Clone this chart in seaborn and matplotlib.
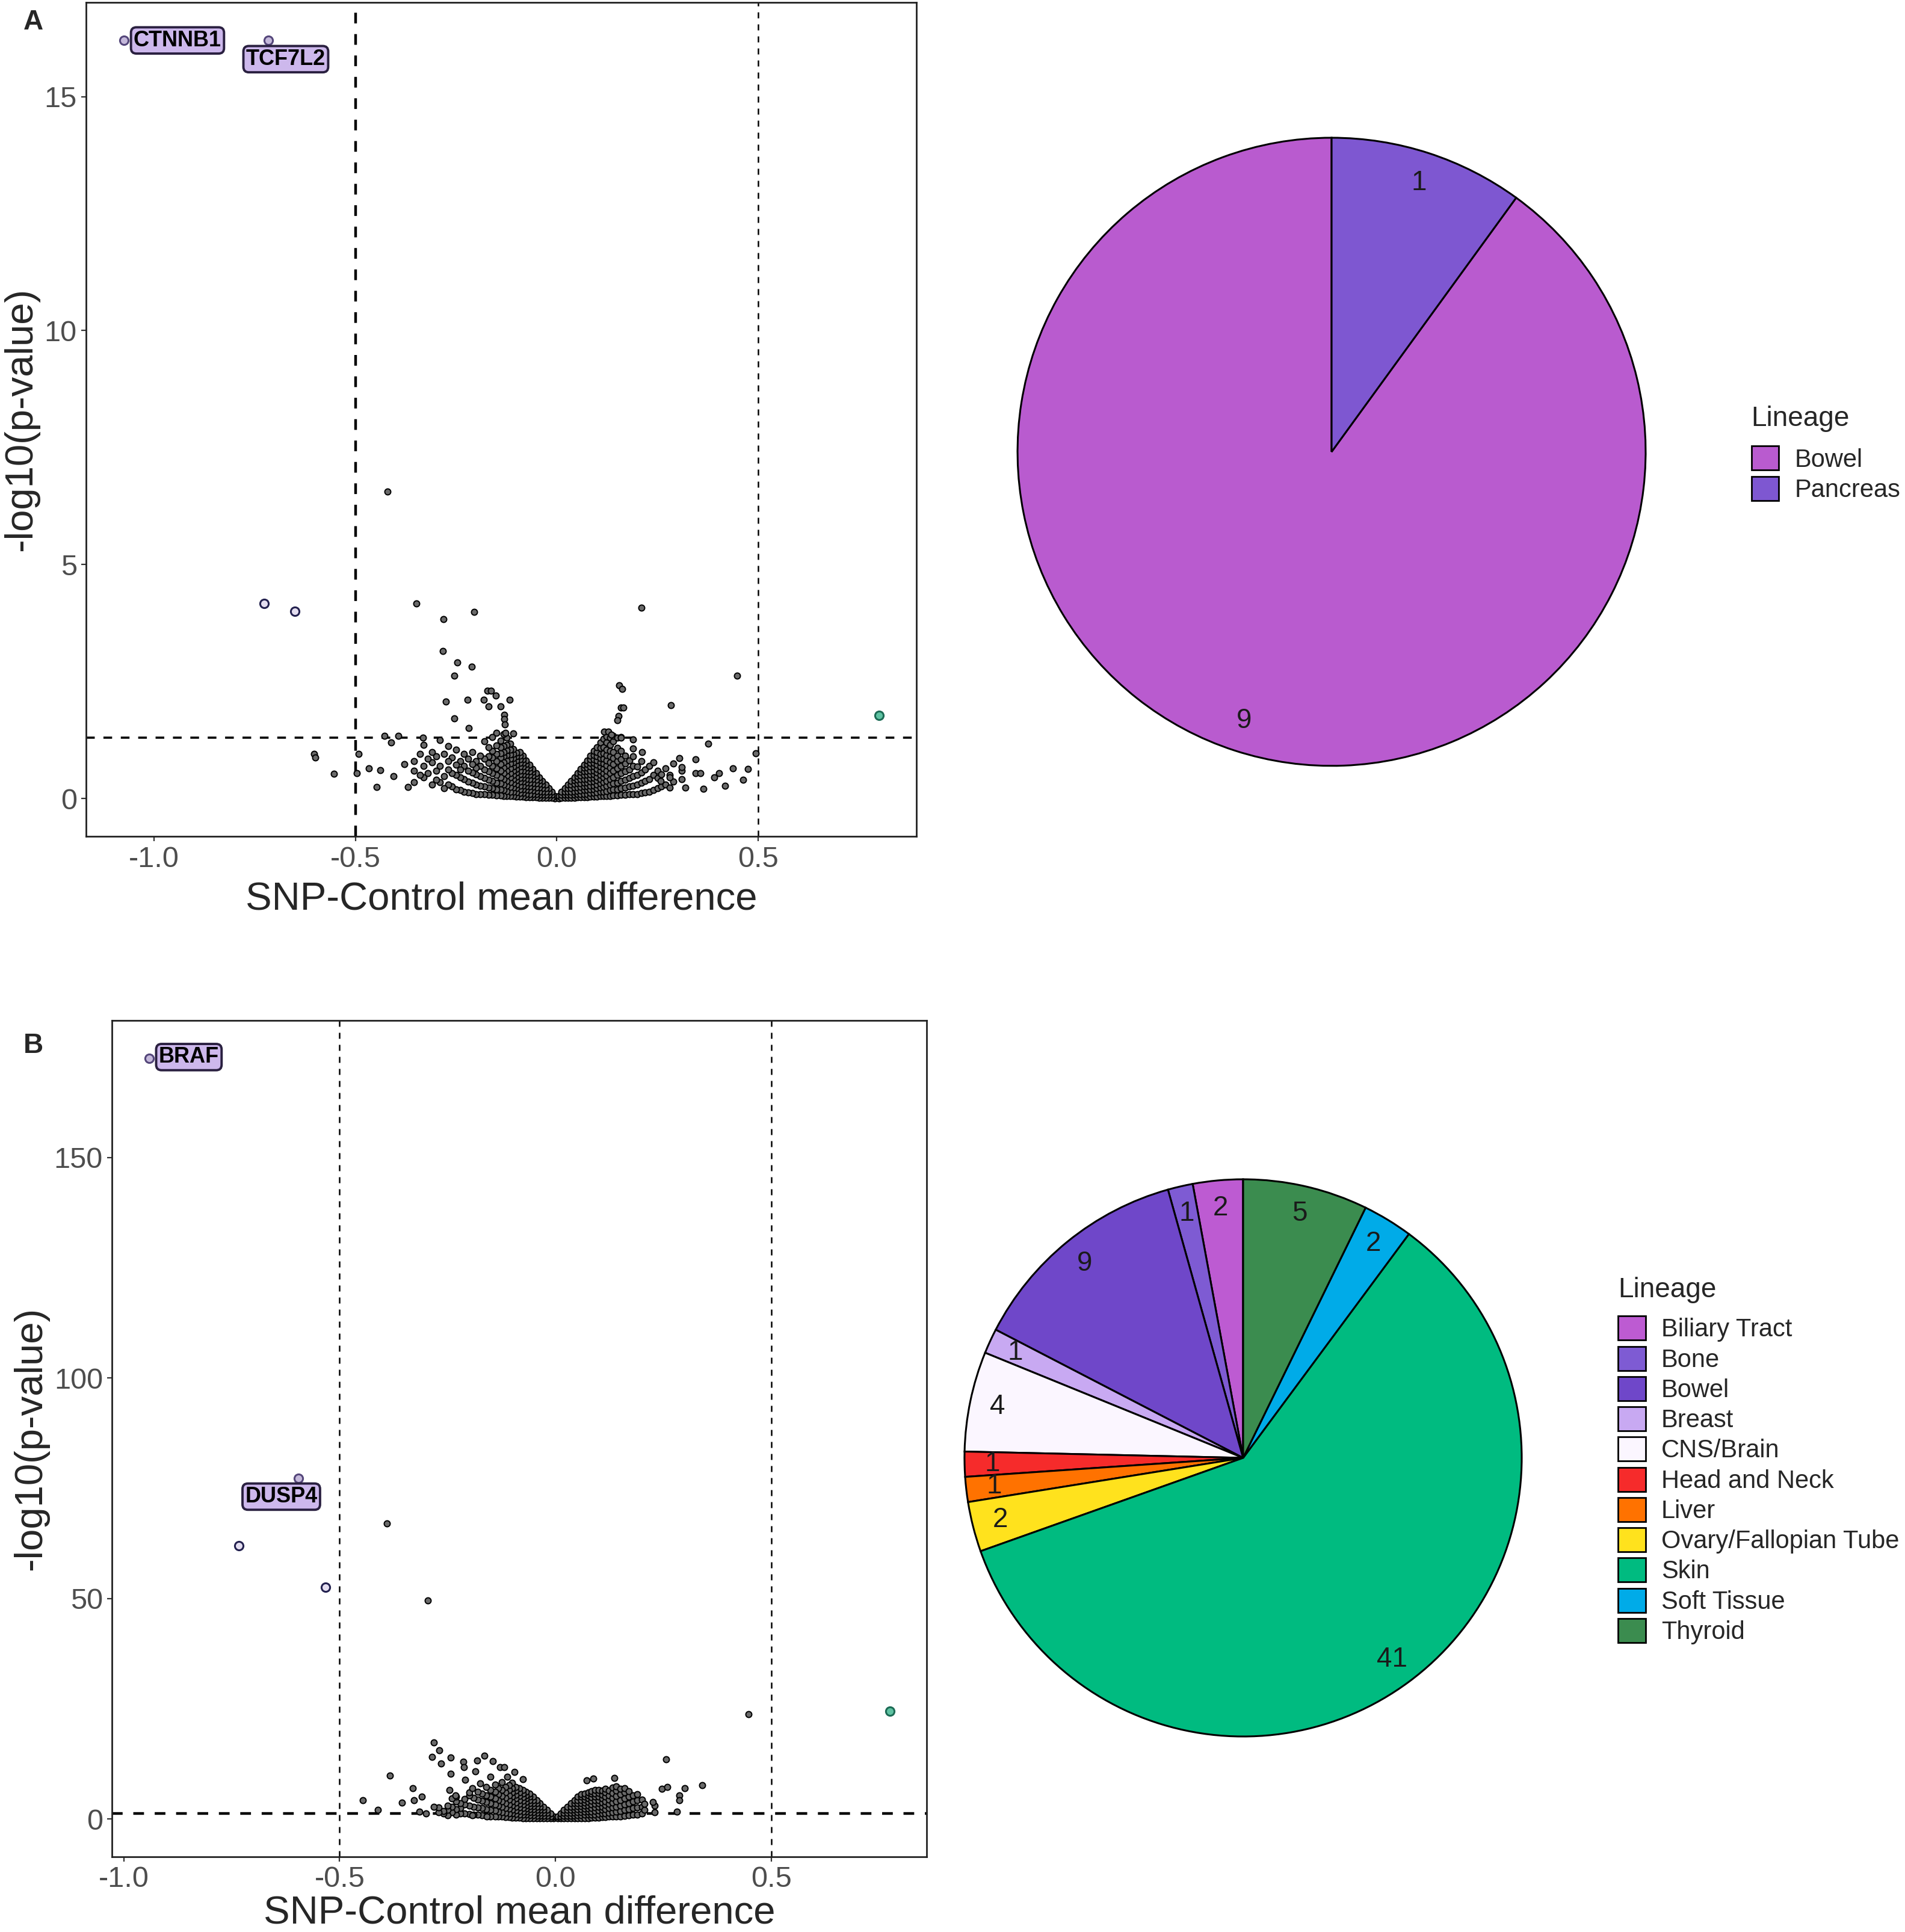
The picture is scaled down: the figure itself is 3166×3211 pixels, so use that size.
import numpy as np
import pandas as pd
import matplotlib
matplotlib.use('Agg')
import matplotlib.pyplot as plt
from matplotlib.patches import Patch
import seaborn as sns

# ---------------- data: panel A volcano ----------------
# background genes, read as columns  x -> list of -log10(p)
a_cols = {
    -0.005: [0.01, 0.05],
    -0.012: [0.02, 0.08, 0.14],
    -0.020: [0.02, 0.08, 0.15, 0.22],
    -0.028: [0.02, 0.08, 0.15, 0.22, 0.30],
    -0.036: [0.02, 0.08, 0.15, 0.22, 0.30, 0.38],
    -0.044: [0.02, 0.08, 0.15, 0.23, 0.31, 0.39, 0.46],
    -0.052: [0.03, 0.09, 0.16, 0.24, 0.32, 0.40, 0.48, 0.55],
    -0.060: [0.03, 0.10, 0.17, 0.25, 0.33, 0.41, 0.49, 0.57, 0.64],
    -0.068: [0.03, 0.10, 0.18, 0.26, 0.34, 0.42, 0.50, 0.58, 0.66, 0.73],
    -0.076: [0.03, 0.10, 0.18, 0.26, 0.34, 0.42, 0.50, 0.58, 0.66, 0.74, 0.82],
    -0.084: [0.04, 0.12, 0.20, 0.28, 0.36, 0.44, 0.52, 0.60, 0.68, 0.76, 0.84, 0.92],
    -0.092: [0.04, 0.12, 0.20, 0.28, 0.36, 0.44, 0.52, 0.60, 0.68, 0.76, 0.84, 0.92, 1.00],
    -0.100: [0.04, 0.13, 0.22, 0.30, 0.39, 0.47, 0.56, 0.64, 0.73, 0.82, 0.90, 0.98],
    -0.108: [0.05, 0.14, 0.23, 0.32, 0.41, 0.50, 0.59, 0.68, 0.77, 0.86, 0.95, 1.06],
    -0.116: [0.05, 0.15, 0.25, 0.35, 0.45, 0.55, 0.65, 0.75, 0.85, 0.94, 1.05, 1.18],
    -0.124: [0.06, 0.16, 0.27, 0.38, 0.49, 0.60, 0.71, 0.82, 0.93, 1.03, 1.15, 1.30],
    -0.132: [0.06, 0.18, 0.30, 0.42, 0.54, 0.66, 0.78, 0.90, 1.00, 1.12, 1.38],
    -0.140: [0.07, 0.20, 0.33, 0.46, 0.60, 0.74, 0.88, 0.97, 1.10, 1.24],
    -0.150: [0.07, 0.20, 0.34, 0.50, 0.65, 0.80, 0.95, 1.14, 1.40],
    -0.160: [0.08, 0.22, 0.38, 0.54, 0.70, 0.88, 1.02, 1.32],
    -0.170: [0.08, 0.24, 0.40, 0.58, 0.76, 0.90, 1.10],
    -0.180: [0.09, 0.26, 0.44, 0.62, 0.85, 1.22],
    -0.190: [0.10, 0.28, 0.48, 0.70, 0.92],
    -0.200: [0.10, 0.30, 0.52, 0.66, 0.80],
    -0.210: [0.12, 0.34, 0.56, 0.74, 1.00],
    -0.220: [0.13, 0.36, 0.60, 0.85],
    -0.230: [0.15, 0.42, 0.70, 0.95],
    -0.240: [0.18, 0.46, 0.62, 0.80],
    -0.250: [0.20, 0.50, 0.72, 1.05],
    -0.260: [0.26, 0.55, 0.88],
    -0.270: [0.30, 0.62, 0.80, 1.12],
    -0.280: [0.22, 0.48, 0.95],
    -0.290: [0.35, 0.70, 1.25],
    -0.300: [0.40, 0.60, 0.90],
    -0.310: [0.30, 0.78, 1.00],
    -0.320: [0.55, 0.85],
    -0.330: [0.45, 0.70, 1.15],
    -0.340: [0.50, 0.95],
    -0.355: [0.35, 0.60, 0.80],
    0.005: [0.01, 0.05],
    0.012: [0.02, 0.08, 0.14],
    0.020: [0.02, 0.08, 0.15, 0.22],
    0.028: [0.02, 0.08, 0.15, 0.22, 0.30],
    0.036: [0.02, 0.08, 0.15, 0.22, 0.30, 0.38],
    0.044: [0.02, 0.08, 0.15, 0.23, 0.31, 0.39, 0.46],
    0.052: [0.03, 0.09, 0.16, 0.24, 0.32, 0.40, 0.48, 0.55],
    0.060: [0.03, 0.10, 0.17, 0.25, 0.33, 0.41, 0.49, 0.57, 0.64],
    0.068: [0.03, 0.10, 0.18, 0.26, 0.34, 0.42, 0.50, 0.58, 0.66, 0.73],
    0.076: [0.03, 0.10, 0.18, 0.26, 0.34, 0.42, 0.50, 0.58, 0.66, 0.74, 0.82],
    0.084: [0.04, 0.12, 0.20, 0.28, 0.36, 0.44, 0.52, 0.60, 0.68, 0.76, 0.84, 0.92],
    0.092: [0.04, 0.12, 0.20, 0.28, 0.36, 0.44, 0.52, 0.60, 0.68, 0.76, 0.84, 0.93, 1.02],
    0.100: [0.04, 0.13, 0.22, 0.30, 0.39, 0.47, 0.56, 0.64, 0.73, 0.82, 0.90, 1.00, 1.10],
    0.108: [0.05, 0.14, 0.23, 0.32, 0.41, 0.50, 0.59, 0.68, 0.77, 0.86, 0.96, 1.08, 1.20],
    0.116: [0.05, 0.15, 0.25, 0.35, 0.45, 0.55, 0.65, 0.75, 0.85, 0.97, 1.10, 1.28],
    0.124: [0.06, 0.16, 0.27, 0.38, 0.49, 0.60, 0.71, 0.82, 0.93, 1.05, 1.20, 1.33],
    0.132: [0.06, 0.18, 0.30, 0.42, 0.54, 0.66, 0.78, 0.90, 1.02, 1.15, 1.30],
    0.140: [0.07, 0.20, 0.33, 0.46, 0.60, 0.74, 0.86, 1.00, 1.22, 1.34],
    0.150: [0.07, 0.20, 0.34, 0.50, 0.65, 0.80, 0.92, 1.08, 1.30],
    0.160: [0.08, 0.22, 0.38, 0.54, 0.70, 0.84, 1.02, 1.32],
    0.170: [0.08, 0.24, 0.40, 0.58, 0.75, 0.92],
    0.180: [0.09, 0.26, 0.44, 0.62, 0.82],
    0.190: [0.10, 0.28, 0.48, 0.70, 0.90],
    0.200: [0.10, 0.30, 0.50, 0.68],
    0.210: [0.12, 0.34, 0.56, 0.80],
    0.220: [0.13, 0.38, 0.62],
    0.230: [0.15, 0.42, 0.70],
    0.240: [0.18, 0.50, 0.78],
    0.250: [0.22, 0.44, 0.60],
    0.260: [0.26, 0.52],
    0.270: [0.30, 0.65],
    0.280: [0.24, 0.50],
    0.290: [0.36, 0.75],
    0.310: [0.42, 0.60],
}
# isolated background genes
a_sparse_x = [-0.42, -0.348, -0.205, -0.281, -0.283, -0.247, -0.211, -0.255, -0.172, -0.163,
              -0.152, -0.275, -0.222, -0.182, -0.117, -0.169, -0.14, -0.131, -0.131, -0.255,
              -0.218, -0.129, -0.127, -0.108, 0.211, 0.448, 0.155, 0.163, 0.159, 0.166,
              0.284, 0.153, 0.151, 0.117, 0.128, 0.136, 0.159, 0.19, 0.376, 0.494,
              -0.428, -0.393, -0.412, -0.332, -0.603, -0.492, -0.553, -0.466, -0.439, -0.447,
              -0.405, -0.378, -0.37, -0.6, -0.497, 0.212, 0.19, 0.304, 0.345, 0.311,
              0.345, 0.357, 0.364, 0.391, 0.403, 0.418, 0.437, 0.463, 0.475, 0.319,
              0.281, 0.258]
a_sparse_y = [6.56, 4.17, 3.99, 3.83, 3.16, 2.91, 2.82, 2.63, 2.30, 2.31,
              2.20, 2.07, 2.11, 2.11, 2.11, 1.97, 1.97, 1.79, 1.70, 1.72,
              1.51, 1.58, 1.41, 1.39, 4.08, 2.63, 2.42, 2.35, 1.95, 1.95,
              2.00, 1.76, 1.68, 1.43, 1.43, 1.37, 1.30, 1.26, 1.18, 0.97,
              1.34, 1.34, 1.20, 1.30, 0.95, 0.95, 0.53, 0.65, 0.61, 0.25,
              0.48, 0.74, 0.25, 0.88, 0.55, 1.00, 1.07, 0.86, 0.84, 0.67,
              0.55, 0.55, 0.21, 0.46, 0.55, 0.27, 0.65, 0.40, 0.63, 0.23,
              0.46, 0.38]
# highlighted genes
a_hit_x = [-1.075, -0.716, -0.727, -0.650, 0.800]
a_hit_y = [16.2, 16.2, 4.17, 4.00, 1.78]
a_hit_group = ['label', 'label', 'down', 'down', 'up']
a_gene = ['CTNNB1', 'TCF7L2']
a_gene_x = [-0.942, -0.673]
a_gene_y = [16.2, 15.8]

# ---------------- data: panel B volcano ----------------
b_cols = {
    -0.005: [0.1, 0.5],
    -0.012: [0.1, 0.6, 1.2],
    -0.020: [0.1, 0.7, 1.4, 2.1],
    -0.028: [0.1, 0.7, 1.4, 2.1, 2.8],
    -0.036: [0.1, 0.7, 1.4, 2.1, 2.8, 3.5],
    -0.044: [0.1, 0.7, 1.4, 2.1, 2.8, 3.5, 4.2],
    -0.052: [0.2, 0.8, 1.5, 2.2, 2.9, 3.6, 4.3, 5.0],
    -0.060: [0.2, 0.8, 1.5, 2.2, 2.9, 3.6, 4.3, 5.0, 5.8],
    -0.068: [0.2, 0.9, 1.6, 2.3, 3.0, 3.8, 4.6, 5.4, 6.2],
    -0.076: [0.2, 0.9, 1.7, 2.5, 3.3, 4.1, 4.9, 5.7, 6.6],
    -0.084: [0.3, 1.0, 1.8, 2.6, 3.4, 4.3, 5.2, 6.0, 7.0],
    -0.092: [0.3, 1.1, 1.9, 2.8, 3.7, 4.6, 5.5, 6.4, 7.3],
    -0.100: [0.3, 1.2, 2.1, 3.0, 4.0, 5.0, 6.0, 7.0, 8.2],
    -0.108: [0.4, 1.3, 2.3, 3.3, 4.4, 5.4, 6.6, 7.6],
    -0.116: [0.4, 1.4, 2.5, 3.6, 4.8, 6.0, 7.2],
    -0.124: [0.5, 1.5, 2.7, 3.9, 5.2, 6.5, 8.4],
    -0.132: [0.5, 1.7, 3.0, 4.3, 5.6, 7.0],
    -0.140: [0.6, 1.9, 3.3, 4.7, 6.2, 7.8],
    -0.150: [0.6, 2.0, 3.5, 5.0, 6.6],
    -0.160: [0.7, 2.2, 3.8, 5.4, 7.2],
    -0.170: [0.8, 2.4, 4.1, 5.8],
    -0.180: [0.9, 2.6, 4.4, 6.2],
    -0.190: [1.0, 2.8, 4.8],
    -0.200: [1.1, 3.0, 5.3, 6.0],
    -0.210: [1.2, 3.3, 4.5],
    -0.220: [1.3, 2.5, 3.6],
    -0.230: [1.0, 2.2, 3.9, 5.0],
    -0.240: [1.5, 2.8, 4.6],
    -0.250: [0.8, 2.0, 3.0],
    -0.260: [1.2, 1.8],
    -0.270: [1.5, 2.6],
    -0.300: [1.2],
    0.005: [0.1, 0.5],
    0.012: [0.1, 0.6, 1.2],
    0.020: [0.1, 0.7, 1.4, 2.1],
    0.028: [0.1, 0.7, 1.4, 2.1, 2.8],
    0.036: [0.1, 0.7, 1.4, 2.1, 2.8, 3.5],
    0.044: [0.1, 0.7, 1.4, 2.1, 2.8, 3.5, 4.2],
    0.052: [0.2, 0.8, 1.5, 2.2, 2.9, 3.6, 4.3, 5.0],
    0.060: [0.2, 0.8, 1.5, 2.2, 2.9, 3.6, 4.3, 5.0, 5.6],
    0.068: [0.2, 0.9, 1.6, 2.3, 3.0, 3.7, 4.4, 5.1, 5.8],
    0.076: [0.2, 0.9, 1.6, 2.3, 3.0, 3.8, 4.6, 5.4, 6.0],
    0.084: [0.3, 1.0, 1.7, 2.5, 3.3, 4.1, 4.9, 5.7, 6.3],
    0.092: [0.3, 1.0, 1.8, 2.6, 3.4, 4.2, 5.0, 5.8, 6.5],
    0.100: [0.3, 1.1, 1.9, 2.7, 3.5, 4.3, 5.1, 5.9, 6.6],
    0.108: [0.4, 1.2, 2.0, 2.8, 3.7, 4.6, 5.5, 6.4],
    0.116: [0.4, 1.3, 2.2, 3.1, 4.0, 5.0, 6.0, 6.9],
    0.124: [0.5, 1.4, 2.4, 3.4, 4.4, 5.4, 6.4],
    0.132: [0.5, 1.5, 2.6, 3.7, 4.8, 5.9, 7.1],
    0.140: [0.6, 1.7, 2.8, 4.0, 5.2, 6.4, 7.4],
    0.150: [0.6, 1.8, 3.0, 4.3, 5.6, 6.8],
    0.160: [0.7, 2.0, 3.3, 4.6, 6.0, 7.0],
    0.170: [0.8, 2.2, 3.6, 5.0, 6.3],
    0.180: [0.9, 2.4, 3.9, 5.4],
    0.190: [1.0, 2.6, 4.2, 5.6],
    0.200: [1.2, 2.8, 4.4],
    0.206: [2.0, 3.4],
    0.230: [1.5, 3.0],
}
b_sparse_x = [-0.390, -0.295, -0.281, -0.269, -0.286, -0.265, -0.243, -0.383, -0.243, -0.213,
              -0.212, -0.181, -0.165, -0.186, -0.145, -0.209, -0.150, -0.128, -0.118, -0.095,
              -0.112, -0.330, -0.309, -0.327, -0.355, -0.446, -0.281, -0.411, -0.246, -0.231,
              -0.193, -0.175, -0.075, -0.315, -0.193, -0.159, 0.256, 0.072, 0.087, 0.137,
              0.246, 0.259, 0.299, 0.340, 0.226, 0.287, 0.287, 0.281, 0.447]
b_sparse_y = [67.0, 49.5, 17.3, 15.6, 14.0, 12.5, 13.9, 9.8, 10.2, 13.0,
              11.8, 13.2, 14.3, 10.8, 13.1, 8.9, 9.5, 11.8, 11.7, 10.7,
              9.5, 7.0, 5.1, 4.2, 3.7, 4.2, 2.7, 2.1, 6.5, 5.4,
              7.0, 8.1, 9.0, 1.7, 0.8, 0.6, 13.5, 8.8, 9.1, 9.3,
              6.8, 7.2, 7.0, 7.6, 3.8, 5.4, 4.2, 1.7, 23.8]
b_hit_x = [-0.941, -0.595, -0.733, -0.532, 0.774]
b_hit_y = [172.5, 77.3, 62.0, 52.5, 24.4]
b_hit_group = ['label', 'label', 'down', 'down', 'up']
b_gene = ['BRAF', 'DUSP4']
b_gene_x = [-0.849, -0.635]
b_gene_y = [172.8, 73.1]

# ---------------- data: lineage pies ----------------
a_lineage = ['Bowel', 'Pancreas']
a_counts = [9, 1]
a_colors = ['#B95BCF', '#7E57D1']

b_lineage = ['Biliary Tract', 'Bone', 'Bowel', 'Breast', 'CNS/Brain', 'Head and Neck',
             'Liver', 'Ovary/Fallopian Tube', 'Skin', 'Soft Tissue', 'Thyroid']
b_counts = [2, 1, 9, 1, 4, 1, 1, 2, 41, 2, 5]
b_colors = ['#BD5BD2', '#7E5BD3', '#6F47C9', '#C8A9F2', '#FBF6FF', '#F62B2B',
            '#FF7200', '#FFE21D', '#00BB80', '#00ABE8', '#3B8C4F']

hit_style = {
    'label': dict(fc='#C4B8DA', ec='#54467A'),
    'down': dict(fc='#E4DEF0', ec='#23214F'),
    'up': dict(fc='#5EC2A2', ec='#1C6B55'),
}

sns.set_theme(style='white')
plt.rcParams['font.family'] = ['Liberation Sans', 'DejaVu Sans']
plt.rcParams['axes.unicode_minus'] = False


def background(cols, xs, ys):
    rows = [(x, y) for x, vals in cols.items() for y in vals]
    rows += list(zip(xs, ys))
    return pd.DataFrame(rows, columns=['diff', 'logp'])


def volcano(ax, bg, hx, hy, hgroup, genes, gx, gy, xticks, yticks, xlim, ylim,
            lw_v, lw_h, xpad):
    sns.scatterplot(data=bg, x='diff', y='logp', ax=ax, s=13, color='#6a6a6a',
                    edgecolor='black', linewidth=0.7, legend=False, zorder=2)
    hits = pd.DataFrame({'diff': hx, 'logp': hy, 'group': hgroup})
    for g, sub in hits.groupby('group'):
        sns.scatterplot(data=sub, x='diff', y='logp', ax=ax, s=26, color=hit_style[g]['fc'],
                        edgecolor=hit_style[g]['ec'], linewidth=1.1, legend=False, zorder=3)
    ax.axvline(-0.5, color='black', lw=lw_v[0], ls=(0, (4, 4)), zorder=1)
    ax.axvline(0.5, color='black', lw=lw_v[1], ls=(0, (4, 4)), zorder=1)
    ax.axhline(-np.log10(0.05), color='black', lw=lw_h, ls=(0, (4, 4)), zorder=1)
    for name, x, y in zip(genes, gx, gy):
        ax.text(x, y, name, ha='center', va='center', fontsize=13, fontweight='bold',
                color='black', zorder=4,
                bbox=dict(boxstyle='round,pad=0.12,rounding_size=0.25', fc='#CDB8EC',
                          ec='#2a2040', lw=1.4))
    ax.set_xlim(xlim)
    ax.set_ylim(ylim)
    ax.set_xticks(xticks)
    ax.set_yticks(yticks)
    ax.set_xticklabels([f'{t:.1f}' for t in xticks])
    ax.set_yticklabels([f'{t}' for t in yticks])
    ax.tick_params(axis='both', labelsize=17.5, labelcolor='#4D4D4D', length=3,
                   width=0.8, color='#333333', pad=2.5, bottom=True, left=True)
    ax.set_xlabel('SNP-Control mean difference', fontsize=23.5, labelpad=xpad)
    ax.set_ylabel('-log10(p-value)', fontsize=23.5, labelpad=3)
    for sp in ax.spines.values():
        sp.set_color('#222222')
        sp.set_linewidth(1.0)


def lineage_pie(ax, counts, colors):
    total = sum(counts)
    wedges, texts, autotexts = ax.pie(
        counts, colors=colors, startangle=90, counterclock=True, radius=1,
        wedgeprops=dict(edgecolor='black', linewidth=1.1),
        autopct=lambda p: f'{round(p * total / 100)}', pctdistance=0.9,
        textprops=dict(fontsize=16.5, color='#1a1a1a'))
    for w in wedges:
        w.set_clip_on(False)
    ax.set_xlim(-1, 1)
    ax.set_ylim(-1, 1)
    ax.axis('off')


fig = plt.figure(figsize=(3166 / 200, 3211 / 200), dpi=200)
ax_a = fig.add_axes([0.0452, 0.567, 0.436, 0.4317])
ax_b = fig.add_axes([0.0588, 0.0389, 0.4277, 0.4329])
pie_a = fig.add_axes([0.5341, 0.6036, 0.3298, 0.3251])
pie_b = fig.add_axes([0.5063, 0.1012, 0.2925, 0.2884])

volcano(ax_a, background(a_cols, a_sparse_x, a_sparse_y), a_hit_x, a_hit_y, a_hit_group,
        a_gene, a_gene_x, a_gene_y, [-1.0, -0.5, 0.0, 0.5], [0, 5, 10, 15],
        (-1.169, 0.894), (-0.81, 17.01), (1.6, 0.9), 1.3, 5)
volcano(ax_b, background(b_cols, b_sparse_x, b_sparse_y), b_hit_x, b_hit_y, b_hit_group,
        b_gene, b_gene_x, b_gene_y, [-1.0, -0.5, 0.0, 0.5], [0, 50, 100, 150],
        (-1.027, 0.860), (-8.6, 181.1), (0.9, 0.9), 1.6, 1)

lineage_pie(pie_a, a_counts, a_colors)
lineage_pie(pie_b, b_counts, b_colors)

# legends: title as its own text so the gap to the keys matches
for lineage, colors, title_xy, anchor in [
        (a_lineage, a_colors, (0.9193, 0.7833), (0.9193, 0.7691)),
        (b_lineage, b_colors, (0.8494, 0.3323), (0.8494, 0.3188))]:
    fig.text(title_xy[0], title_xy[1], 'Lineage', fontsize=16.5, ha='left', va='center')
    handles = [Patch(facecolor=c, edgecolor='black', linewidth=1.0) for c in colors]
    fig.legend(handles, lineage, loc='upper left', bbox_to_anchor=anchor,
               frameon=False, fontsize=15,
               handlelength=1.1, handleheight=1.1, labelspacing=0.17, handletextpad=0.62,
               borderpad=0, borderaxespad=0)

fig.text(0.0174, 0.9885, 'A', fontsize=16.5, fontweight='bold', va='center', ha='center')
fig.text(0.0174, 0.4587, 'B', fontsize=16.5, fontweight='bold', va='center', ha='center')

fig.savefig('out.png', dpi=200, facecolor='white')
